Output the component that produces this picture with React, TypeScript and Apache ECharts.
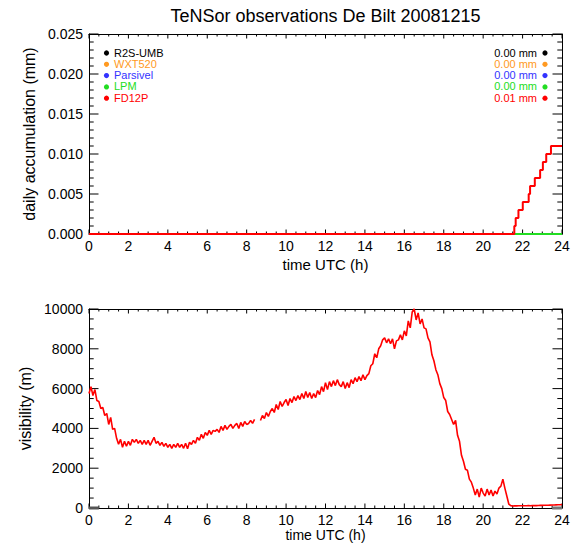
import React, { useEffect, useRef } from "react";
import * as echarts from "echarts";

// ---------- data ----------
const TITLE = "TeNSor observations De Bilt 20081215";

// legend (top panel)
const legendNames = ["R2S-UMB", "WXT520", "Parsivel", "LPM", "FD12P"];
const legendValues = ["0.00 mm", "0.00 mm", "0.00 mm", "0.00 mm", "0.01 mm"];
const legendColors = ["#000000", "#ff9a22", "#3333ff", "#22dd22", "#ff0000"];

// FD12P daily accumulation (mm): time (h) at which each value starts
const fd12pTimes = [0, 21.58, 21.65, 21.79, 22.01, 22.31, 22.38, 22.62, 22.89, 23.03, 23.2, 23.44, 24];
const fd12pAccum = [0, 0.001, 0.002, 0.003, 0.004, 0.005, 0.006, 0.007, 0.008, 0.009, 0.01, 0.011, 0.011];

// LPM daily accumulation (mm)
const lpmTimes = [0, 24];
const lpmAccum = [0, 0];

// visibility (m), FD12P, sampled every 0.1 h from 0.0 h to 24.0 h
const VIS_STEP_H = 0.1;
const visibility: (number | null)[] = [
  5750, 6100, 5650, 5950, 5400, 5350, 5000, 5050, 4650, 4750,
  4200, 4550, 3950, 4000, 3500, 3200, 3450, 3050, 3350, 3100,
  3350, 3150, 3450, 3300, 3450, 3250, 3400, 3200, 3400, 3200,
  3400, 3150, 3350, 3550, 3250, 3350, 3150, 3300, 3100, 3250,
  3050, 3200, 3000, 3200, 3050, 3250, 3050, 3200, 3000, 3250,
  2980, 3300, 3200, 3400, 3250, 3550, 3400, 3700, 3500, 3800,
  3650, 3900, 3700, 3900, 3850, 3950, 3800, 4100, 3900, 4150,
  3950, 4100, 4200, 4000, 4150, 4250, 4000, 4300, 4100, 4350,
  4200, 4250, 4400, 4250, 4450, null, null, 4400, 4650, 4500,
  4800, 4600, 4850, 5000, 4800, 5200, 4950, 5350, 5100, 5300,
  5450, 5150, 5500, 5300, 5600, 5400, 5650, 5450, 5750, 5500,
  5850, 5550, 5800, 5500, 5750, 5550, 5900, 5700, 6100, 5850,
  6300, 5950, 6350, 6100, 6400, 6150, 6450, 6200, 6100, 6350,
  6000, 6300, 6050, 6450, 6250, 6550, 6350, 6600, 6400, 6700,
  6450, 6650, 6750, 7150, 7250, 7750, 7550, 8000, 8150, 8450,
  8550, 8300, 8500, 8250, 8500, 8000, 8400, 8450, 8700, 8450,
  8900, 8650, 9400, 9050, 9850, 10000, 9450, 9800, 9250, 9500,
  9050, 9000, 8550, 8350, 7700, 7400, 6950, 6700, 6250, 6000,
  5550, 5400, 4850, 4700, 4450, 4200, 4400, 3650, 3350, 2650,
  2350, 1950, 1900, 1450, 1300, 1000, 650, 950, 550, 1000,
  750, 600, 950, 650, 900, 600, 850, 700, 1000, 1100,
  1450, 1000, 600, 200, 120, 100, 110, 105, 110, 115,
  110, 115, 110, 120, 115, 120, 125, 120, 125, 130,
  130, 135, 140, 135, 145, 150, 150, 155, 160, 165,
  175,
];

// other instrument at 0 m (grey segments along the axis)
const greyVisSegA: [number, number][] = [[0, 0], [0.5, 0]];
const greyVisSegB: [number, number][] = [[23.5, 0], [24, 0]];

// axis ranges
const X_MIN = 0, X_MAX = 24, X_MAJOR = 2, X_MINOR_SPLIT = 4;
const Y1_MAX = 0.025, Y1_MAJOR = 0.005, Y1_MINOR_SPLIT = 5;
const Y2_MAX = 10000, Y2_MAJOR = 2000, Y2_MINOR_SPLIT = 4;

// ---------- layout ----------
const FONT = "'Liberation Sans', Arial, Helvetica, sans-serif";
const G_LEFT = 89, G_WIDTH = 473, TOP1 = 34, H1 = 200, TOP2 = 309, H2 = 199;
const X_TICK = 4.5, X_MINOR_TICK = 2.5, Y_TICK = 9.5, Y_MINOR_TICK = 4.7;

function tickList(min: number, max: number, step: number) {
  const out: number[] = [];
  const n = Math.round((max - min) / step);
  for (let i = 0; i <= n; i++) out.push(min + (i * (max - min)) / n);
  return out;
}

const baseAxis = {
  type: "value" as const,
  splitLine: { show: false },
  axisLine: { show: true, onZero: false, lineStyle: { color: "#000", width: 1 } },
  axisTick: { show: false },
  minorTick: { show: false },
};
function xAxis(gridIndex: number, nameGap: number, nameSize: number) {
  return {
    ...baseAxis, gridIndex, min: X_MIN, max: X_MAX, interval: X_MAJOR, position: "bottom" as const,
    name: "time UTC (h)", nameLocation: "middle" as const, nameGap,
    nameTextStyle: { color: "#000", fontSize: nameSize, fontFamily: FONT },
    axisLabel: { show: true, color: "#000", fontSize: 14, fontFamily: FONT, margin: 5 },
  };
}
function xMirror(gridIndex: number) {
  return { ...baseAxis, gridIndex, min: X_MIN, max: X_MAX, interval: X_MAJOR, position: "top" as const, axisLabel: { show: false } };
}
function yAxis(gridIndex: number, max: number, interval: number, name: string, fmt: (v: number) => string) {
  return {
    ...baseAxis, gridIndex, min: 0, max, interval, position: "left" as const,
    name, nameLocation: "middle" as const, nameRotate: 90, nameGap: 48,
    nameTextStyle: { color: "#000", fontSize: 16, fontFamily: FONT },
    axisLabel: { show: true, color: "#000", fontSize: 14, fontFamily: FONT, margin: 6, formatter: fmt },
  };
}
function yMirror(gridIndex: number, max: number, interval: number) {
  return { ...baseAxis, gridIndex, min: 0, max, interval, position: "right" as const, axisLabel: { show: false } };
}

// IDL-style inward ticks on all four sides, drawn as a broken line series in data units
function tickSeries(axisIdx: number, yMax: number, yMajor: number, yMinorSplit: number, plotH: number) {
  const xMaj = tickList(X_MIN, X_MAX, X_MAJOR);
  const xMin = tickList(X_MIN, X_MAX, X_MAJOR / X_MINOR_SPLIT);
  const yMaj = tickList(0, yMax, yMajor);
  const yMin = tickList(0, yMax, yMajor / yMinorSplit);
  const dyPerPx = yMax / plotH;
  const dxPerPx = (X_MAX - X_MIN) / G_WIDTH;
  const data: any[] = [];
  xMin.forEach((t) => {
    const isMaj = xMaj.some((m) => Math.abs(m - t) < 1e-9);
    const len = (isMaj ? X_TICK : X_MINOR_TICK) * dyPerPx;
    data.push([t, 0], [t, len], [t, null]);
    data.push([t, yMax], [t, yMax - len], [t, null]);
  });
  yMin.forEach((v) => {
    const isMaj = yMaj.some((m) => Math.abs(m - v) < 1e-9 * Math.max(1, yMax));
    const len = (isMaj ? Y_TICK : Y_MINOR_TICK) * dxPerPx;
    data.push([X_MIN, v], [X_MIN + len, v], [X_MIN + len, null]);
    data.push([X_MAX, v], [X_MAX - len, v], [X_MAX - len, null]);
  });
  return {
    name: "ticks" + axisIdx,
    type: "line",
    xAxisIndex: axisIdx,
    yAxisIndex: axisIdx,
    data,
    connectNulls: false,
    showSymbol: false,
    clip: false,
    silent: true,
    z: 1,
    lineStyle: { color: "#000", width: 1 },
  };
}

export default function App() {
  const ref = useRef<HTMLDivElement>(null);

  useEffect(() => {
    if (!ref.current) return;
    const chart = echarts.init(ref.current, undefined, { renderer: "svg" });

    const fd12pData = fd12pTimes.map((t, i) => [t, fd12pAccum[i]]);
    const lpmData = lpmTimes.map((t, i) => [t, lpmAccum[i]]);
    const visData = visibility.map((v, i) => [Math.round(i * VIS_STEP_H * 10) / 10, v]);

    const legendGraphics: any[] = [];
    legendNames.forEach((n, i) => {
      const y = 52.5 + i * 11.3;
      legendGraphics.push(
        { type: "circle", shape: { cx: 106.5, cy: y + 0.5, r: 2.6 }, style: { fill: legendColors[i] } },
        { type: "text", x: 114, y, style: { text: n, fill: legendColors[i], fontSize: 11, fontFamily: FONT, textAlign: "left", textVerticalAlign: "middle" } },
        { type: "text", x: 537, y, style: { text: legendValues[i], fill: legendColors[i], fontSize: 11, fontFamily: FONT, textAlign: "right", textVerticalAlign: "middle" } },
        { type: "circle", shape: { cx: 545, cy: y + 0.5, r: 2.6 }, style: { fill: legendColors[i] } }
      );
    });

    chart.setOption({
      animation: false,
      backgroundColor: "#fff",
      grid: [
        { left: G_LEFT, top: TOP1, width: G_WIDTH, height: H1, containLabel: false, outerBoundsMode: "none" },
        { left: G_LEFT, top: TOP2, width: G_WIDTH, height: H2, containLabel: false, outerBoundsMode: "none" },
      ],
      xAxis: [xAxis(0, 23, 15), xMirror(0), xAxis(1, 20, 14), xMirror(1)],
      yAxis: [
        yAxis(0, Y1_MAX, Y1_MAJOR, "daily accumulation (mm)", (v: number) => v.toFixed(3)),
        yMirror(0, Y1_MAX, Y1_MAJOR),
        yAxis(1, Y2_MAX, Y2_MAJOR, "visibility (m)", (v: number) => String(Math.round(v))),
        yMirror(1, Y2_MAX, Y2_MAJOR),
      ],
      graphic: [
        { type: "text", x: 325.5, y: 16, style: { text: TITLE, fill: "#000", fontSize: 18, fontFamily: FONT, textAlign: "center", textVerticalAlign: "middle" } },
        ...legendGraphics,
      ],
      series: [
        tickSeries(0, Y1_MAX, Y1_MAJOR, Y1_MINOR_SPLIT, H1),
        tickSeries(2, Y2_MAX, Y2_MAJOR, Y2_MINOR_SPLIT, H2),
        { name: "LPM", type: "line", xAxisIndex: 0, yAxisIndex: 0, data: lpmData, showSymbol: false, clip: false, lineStyle: { color: legendColors[3], width: 2 } },
        { name: "FD12P", type: "line", xAxisIndex: 0, yAxisIndex: 0, data: fd12pData, step: "end", showSymbol: false, clip: false, lineStyle: { color: legendColors[4], width: 2 } },
        { name: "grey A", type: "line", xAxisIndex: 2, yAxisIndex: 2, data: greyVisSegA, showSymbol: false, clip: false, lineStyle: { color: "#555", width: 3 } },
        { name: "grey B", type: "line", xAxisIndex: 2, yAxisIndex: 2, data: greyVisSegB, showSymbol: false, clip: false, lineStyle: { color: "#777", width: 3 } },
        { name: "visibility", type: "line", xAxisIndex: 2, yAxisIndex: 2, data: visData, connectNulls: false, showSymbol: false, clip: false, lineStyle: { color: "#ff0000", width: 1.6 } },
      ],
    });

    return () => chart.dispose();
  }, []);

  return <div ref={ref} style={{ position: "fixed", left: 0, top: 0, width: 571, height: 544, background: "#fff" }} />;
}
